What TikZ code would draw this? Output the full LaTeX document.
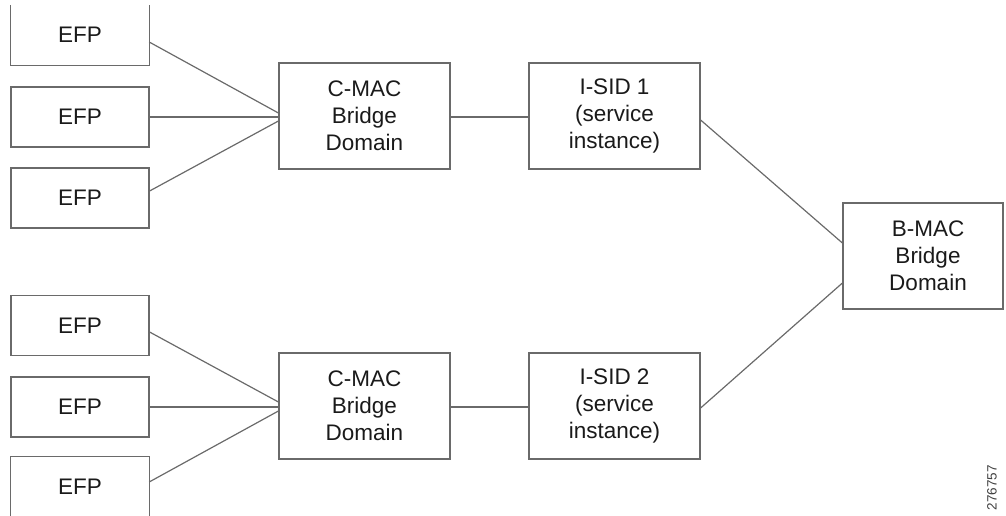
\documentclass[tikz,border=0pt]{standalone}
\usepackage{fontspec}
\setmainfont{Liberation Sans}
\usetikzlibrary{calc}
\definecolor{linegray}{HTML}{6A6A6A}
\definecolor{textdark}{HTML}{1A1A1A}
\begin{document}
\begin{tikzpicture}[x=1pt,y=-1pt,
  every node/.style={inner sep=0pt,text=textdark,font=\fontsize{22.5}{27}\selectfont,align=center},
  efpbox/.style={draw=linegray,line width=1.2pt,minimum width=138pt,minimum height=60pt},
  openbox/.style={draw=none,minimum width=138pt,minimum height=60pt},
  bigbox/.style={draw=linegray,line width=1.2pt,minimum width=171pt,minimum height=106pt},
  conn/.style={draw=linegray,line width=1.2pt},
  tag/.style={text=black!75,font=\fontsize{13.5}{13.5}\selectfont,rotate=90}
]
\useasboundingbox (0,0) rectangle (1006,516);
% EFP boxes (top group)
\node[openbox] (e1) at (80,35) {EFP};
\draw[conn] (e1.north west) -- (e1.south west) -- (e1.south east) -- (e1.north east);
\node[efpbox] (e2) at (80,117) {EFP};
\node[efpbox] (e3) at (80,198) {EFP};
% EFP boxes (bottom group)
\node[efpbox] (e4) at (80,325.5) {EFP};
\node[efpbox] (e5) at (80,407) {EFP};
\node[openbox] (e6) at (80,487) {EFP};
\draw[conn] (e6.south west) -- (e6.north west) -- (e6.north east) -- (e6.south east);
% C-MAC and I-SID boxes
\node[bigbox] (c1) at (364.5,116) {C-MAC\\Bridge\\Domain};
\node[bigbox] (i1) at (614.5,116) {I-SID 1\\(service\\instance)};
\node[bigbox] (c2) at (364.5,406) {C-MAC\\Bridge\\Domain};
\node[bigbox] (i2) at (614.5,406) {I-SID 2\\(service\\instance)};
% B-MAC
\node[bigbox,minimum width=160pt] (b) at (923,256) {\hspace*{10pt}B-MAC\\\hspace*{10pt}Bridge\\\hspace*{10pt}Domain};
% connectors top
\draw[conn] ($(e1.east)+(0,7)$) -- ($(c1.west)+(0,-3)$);
\draw[conn] (e2.east) -- ($(c1.west)+(0,1)$);
\draw[conn] ($(e3.east)+(0,-7)$) -- ($(c1.west)+(0,5)$);
\draw[conn] ($(c1.east)+(0,1)$) -- ($(i1.west)+(0,1)$);
% connectors bottom
\draw[conn] ($(e4.east)+(0,6.5)$) -- ($(c2.west)+(0,-4)$);
\draw[conn] (e5.east) -- ($(c2.west)+(0,1)$);
\draw[conn] ($(e6.east)+(0,-5)$) -- ($(c2.west)+(0,5)$);
\draw[conn] ($(c2.east)+(0,1)$) -- ($(i2.west)+(0,1)$);
% to B-MAC
\draw[conn] ($(i1.east)+(0,4)$) -- ($(b.west)+(0,-13)$);
\draw[conn] ($(i2.east)+(0,2)$) -- ($(b.west)+(0,27)$);
% figure number
\node[tag,anchor=east] (num) at (992,465) {276757};
\end{tikzpicture}
\end{document}
